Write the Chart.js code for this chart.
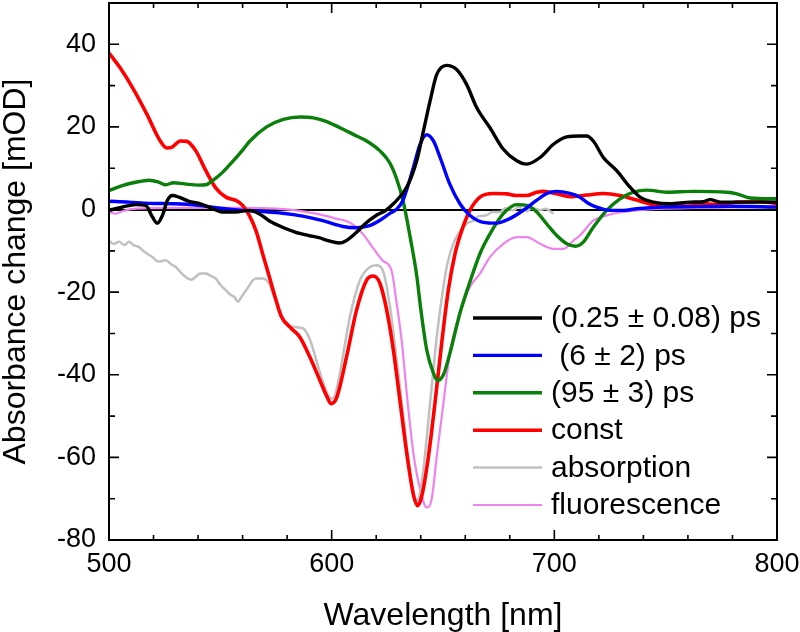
<!DOCTYPE html>
<html><head><meta charset="utf-8">
<script src="https://cdn.jsdelivr.net/npm/chart.js@4"></script>
<style>html,body{margin:0;padding:0;background:#fff}#wrap{width:800px;height:632px}</style>
</head><body><div id="wrap"><canvas id="c" width="800" height="632"></canvas></div>
<script>
const seriesLabels = ['(0.25 \u00b1 0.08) ps', ' (6 \u00b1 2) ps', '(95 \u00b1 3) ps', 'const', 'absorption', 'fluorescence'];

const fastWl  = [500,506,512,516.5,519.5,521.7,524,526.2,528.5,531.4,535.9,540.4,544.9,550.9,556.9,562.9,567.4,571.9,577.9,583.9,589.8,594.3,598.8,603.3,606.3,610.8,615.3,619.8,624.3,627.7,633.7,638.2,641.2,644.2,647.2,651.6,656.1,660.6,665.1,671.1,677.1,683.1,687.6,693.6,699.6,705.6,711.5,714.5,717.5,722,728,734,738.5,744.5,752,761,767,770,774.4,782,794,800];
const fastVal = [-0.2,0.6,1.2,1.0,-1.8,-3.3,-1.4,2.2,3.4,3.0,2.0,1.5,0.6,-0.6,-0.6,-0.2,-1.0,-2.7,-4.3,-5.5,-6.3,-6.8,-7.6,-8.1,-7.6,-5.7,-3.3,-1.5,-0.2,1.4,5.4,11.8,19.0,26.3,32.7,34.9,33.9,30.3,24.7,19.8,14.6,11.8,11.0,12.6,15.8,17.6,17.8,17.8,16.6,12.6,9.4,5.4,3.0,1.8,1.4,1.8,1.9,2.4,1.8,1.8,1.8,1.8];

const midWl  = [500,509,518,530,539,549,560,569,578,587,596,605,611,617,622,626,629,632,636.7,639.7,642.7,645.7,648.7,653,657.6,662,668,674,680,686,692,696.6,701,707,711.5,715,719,725,731,737,749,764,779,800];
const midVal = [2.0,1.8,1.5,1.4,1.1,0.4,-0.2,-0.5,-0.9,-1.6,-2.7,-4.1,-4.4,-3.9,-2.5,-1.0,0.0,2.2,10.2,15.8,18.1,16.6,12.6,6.2,1.4,-1.4,-3.1,-3.3,-2.2,-0.2,2.2,3.9,4.4,3.9,3.0,1.6,0.6,-0.2,-0.2,0.2,0.6,0.7,0.8,0.6];

const slowWl  = [500,506,512,518,522.5,525.5,529,534,540,543.5,546.5,551,555.5,560,563.3,570.8,578.3,585.8,591.8,597.8,603.7,609.7,615.7,621.7,626.2,629.2,632.2,635.2,638.2,640,642.7,645.7,647.5,650.2,653.1,657.6,662.1,666.6,671.1,677.1,683.1,687.6,692.1,696.6,701.1,705.6,709.5,713,717.5,723.5,729.5,735.5,741.5,750.5,762.5,777.4,782,788,800];
const slowVal = [4.6,5.8,6.6,7.1,6.6,6.0,6.5,6.2,5.9,6.0,7.0,9.0,11.6,14.4,16.6,20.0,21.8,22.4,22.2,21.3,19.8,18.2,16.6,14.2,11.2,7.4,1.8,-6.5,-16.0,-24.0,-34.0,-39.6,-41.4,-40.0,-34.8,-25.1,-17.5,-10.7,-5.9,-1.0,1.2,1.0,-0.6,-3.5,-6.3,-8.3,-8.9,-7.9,-4.3,-0.2,2.6,4.2,4.7,4.2,4.4,4.2,3.8,2.8,2.6];

const constWl  = [500,505,511,517,523,526,528,532,535,539,543.5,548,552.5,557,560,563,566,569,572,575,577.4,581.9,585.6,590.1,594.6,597.8,599.7,602.2,606.7,611.2,615.7,618.7,621.7,624.7,627.7,630.7,633.7,636.7,638.6,640.4,643.4,646.4,649.4,652.4,655.4,658.4,662.1,666.6,672.6,678.6,683.1,687.6,692.1,695.1,701.1,707.1,714.5,722,729.5,737,744.5,750.5,759.5,767,774.4,782,792.4,800];
const constVal = [37.9,34.3,29.1,23.1,16.6,14.9,15.0,16.6,16.5,14.2,9.4,5.2,3.0,2.2,1.0,-1.4,-5.1,-10.7,-16.3,-21.9,-25.9,-28.8,-30.8,-35.6,-41.2,-45.2,-47.0,-45.6,-35.6,-24.3,-17.1,-16.1,-17.9,-24.3,-34.0,-46.4,-58.9,-69.0,-71.7,-69.5,-60.0,-46.8,-32.4,-19.5,-10.7,-5.1,-0.2,3.0,3.9,3.8,3.4,3.4,4.2,4.4,3.8,3.1,3.5,3.9,3.4,2.3,1.2,0.9,1.6,1.4,1.2,1.8,1.9,1.5];

const absWl  = [500,502,504.5,507,509,511,513.5,516,519.5,522,525.5,528,530,532,534.4,537,538.9,541,543.4,545.5,547.9,550,552.4,554.5,556.2,558,559.1,562.1,565.9,568.9,571.9,575,578.3,582.8,587.2,590.3,594.8,598,600,601.5,603.7,608.2,612.7,617.2,620.2,623.2,626.2,629.2,632.2,635.2,638,639,641.2,644.2,647.2,650.2,652,654.6,657,659.1,661,663.6,666,669.6,672,675.6,678,681.6,684,687.6,690,693.6,696,699.6];
const absVal = [-7.5,-8.3,-7.8,-8.6,-7.8,-8.6,-9.1,-10.3,-11.5,-12.6,-12.3,-13.3,-13.9,-15.1,-16.3,-17.0,-16.3,-15.5,-15.5,-16.0,-16.7,-18.2,-19.5,-20.6,-21.1,-22.3,-21.5,-19.1,-16.7,-16.7,-17.9,-22.5,-27.1,-28.4,-28.8,-31.6,-39.6,-44.5,-45.8,-45.0,-39.6,-25.9,-17.1,-13.9,-13.5,-15.1,-23.5,-36.4,-50.0,-63.7,-70.5,-70.0,-62.9,-46.8,-30.8,-18.7,-13.0,-8.3,-5.8,-4.3,-3.3,-2.7,-1.6,-1.4,-0.6,-0.6,0.3,-0.2,0.6,-0.4,0.4,-0.1,0.2,-1.0];

const fluWl  = [500,503,506,512,530,545,560,575,584,593,602,608,614,618.3,622.8,627,629,631.5,634,636.7,639.7,642.7,644.9,647.2,650.2,653.1,657.6,662.1,666.6,671.1,677.1,683.1,687.6,693.6,699.6,704.1,708.6,711.5,717.5,723.5,731,749,800];
const fluVal = [-0.6,-1.0,-0.4,0.2,0.4,0.4,0.4,0.2,-0.2,-1.0,-2.2,-3.1,-5.9,-9.1,-12.3,-15.0,-22.0,-32.0,-46.0,-59.0,-67.7,-72.1,-70.1,-59.7,-46.8,-34.8,-25.1,-18.7,-15.5,-11.5,-8.3,-6.7,-6.7,-8.3,-9.5,-9.5,-7.5,-6.3,-2.7,-1.4,-0.6,0.2,0.6];

const xTicks = [500, 600, 700, 800];
const yTicks = [-80, -60, -40, -20, 0, 20, 40];

const FONT = "'Liberation Sans', Arial, Helvetica, sans-serif";
Chart.defaults.font.family = FONT;
Chart.defaults.color = '#000';

function pts(wl, val) { return wl.map((x, i) => ({x: x, y: val[i]})); }

const colors = ['#000000', '#0000ff', '#0a7f0a', '#ff0000', '#c0c0c0', '#ee82ee'];
const widths = [3.4, 3.4, 3.4, 3.6, 2.5, 2.2];
const sets = [pts(fastWl, fastVal), pts(midWl, midVal), pts(slowWl, slowVal), pts(constWl, constVal), pts(absWl, absVal), pts(fluWl, fluVal)];

const frameTicks = {
  id: 'frameTicks',
  afterDatasetsDraw(chart) {
    const {ctx, chartArea: a, scales: {x, y}} = chart;
    ctx.save();
    ctx.strokeStyle = '#000';
    ctx.lineWidth = 1.6;
    ctx.beginPath();
    for (let v = 500; v <= 800; v += 20) {
      const px = x.getPixelForValue(v);
      const len = (v % 100 === 0) ? 10 : 5;
      ctx.moveTo(px, a.bottom); ctx.lineTo(px, a.bottom - len);
      ctx.moveTo(px, a.top); ctx.lineTo(px, a.top + len);
    }
    for (let v = -80; v <= 50; v += 10) {
      const py = y.getPixelForValue(v);
      const len = (v % 20 === 0) ? 10 : 6;
      ctx.moveTo(a.left, py); ctx.lineTo(a.left + len, py);
      ctx.moveTo(a.right, py); ctx.lineTo(a.right - len, py);
    }
    ctx.stroke();
    ctx.lineWidth = 2;
    ctx.strokeRect(a.left, a.top, a.right - a.left, a.bottom - a.top);
    ctx.restore();
  },
  afterDraw(chart) {
    const {ctx, chartArea: a} = chart;
    ctx.save();
    ctx.font = '30px ' + FONT;
    ctx.textBaseline = 'middle';
    ctx.textAlign = 'left';
    chart.data.datasets.forEach((ds, i) => {
      const yy = a.bottom - 222 + i * 37.4;
      ctx.strokeStyle = ds.borderColor;
      ctx.lineWidth = ds.borderWidth;
      ctx.beginPath();
      ctx.moveTo(a.right - 304, yy); ctx.lineTo(a.right - 235, yy);
      ctx.stroke();
      ctx.fillStyle = '#000';
      ctx.fillText(ds.label, a.right - 226, yy + 1);
    });
    ctx.restore();
  }
};

new Chart(document.getElementById('c'), {
  type: 'line',
  data: {
    datasets: sets.map((d, i) => ({
      label: seriesLabels[i], data: d, borderColor: colors[i], borderWidth: widths[i],
      pointRadius: 0, fill: false, cubicInterpolationMode: 'monotone'
    }))
  },
  options: {
    responsive: false, animation: false, devicePixelRatio: 1,
    layout: {padding: {top: 3, right: 23, left: 0, bottom: 0}},
    plugins: {legend: {display: false}, tooltip: {enabled: false}},
    scales: {
      x: {
        type: 'linear', min: 500, max: 800,
        afterBuildTicks: s => { s.ticks = xTicks.map(v => ({value: v})); },
        afterFit: s => { s.height = 92; s.paddingLeft = 0; s.paddingRight = 0; },
        grid: {display: false, drawTicks: false},
        border: {display: false},
        ticks: {font: {size: 27}, color: '#000', padding: 8, maxRotation: 0, autoSkip: false},
        title: {display: true, text: 'Wavelength [nm]', color: '#000', font: {size: 32, lineHeight: 1}, padding: 0}
      },
      y: {
        type: 'linear', min: -80, max: 50,
        afterBuildTicks: s => { s.ticks = yTicks.map(v => ({value: v})); },
        afterFit: s => { s.width = 109; s.paddingTop = 0; s.paddingBottom = 0; },
        grid: {drawTicks: false, lineWidth: 2, color: c => (c.tick && c.tick.value === 0) ? '#000' : 'rgba(0,0,0,0)'},
        border: {display: false},
        ticks: {font: {size: 27}, color: '#000', padding: 13, autoSkip: false},
        title: {display: true, text: 'Absorbance change [mOD]', color: '#000', font: {size: 32, lineHeight: 1}, padding: 0}
      }
    }
  },
  plugins: [frameTicks]
});
</script></body></html>
